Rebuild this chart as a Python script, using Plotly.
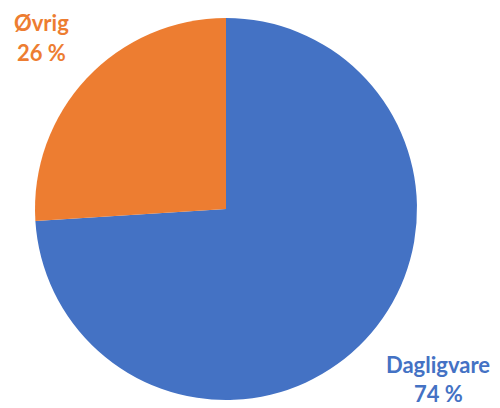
import plotly.graph_objects as go

categories = ["Dagligvare", "Øvrig"]
values = [74, 26]
colors = ["#4472C4", "#ED7D31"]

W, H = 500, 408
cx, cy, r = 226, 209, 191

fig = go.Figure(go.Pie(
    labels=categories,
    values=values,
    sort=False,
    direction="clockwise",
    rotation=0,
    marker=dict(colors=colors, line=dict(width=0)),
    textinfo="none",
    hoverinfo="label+percent",
    domain=dict(x=[(cx - r) / W, (cx + r) / W],
                y=[(H - cy - r) / H, (H - cy + r) / H]),
    showlegend=False,
))

total = sum(values)
label_pos = {"Dagligvare": (438, 364, 393), "Øvrig": (41, 22, 52)}
font_family = "Lato, 'Open Sans', sans-serif"
for cat, val, col in zip(categories, values, colors):
    x, y1, y2 = label_pos[cat]
    pct = f"{round(val / total * 100)} %"
    for txt, yy in ((cat, y1), (pct, y2)):
        fig.add_annotation(
            x=x / W, y=1 - yy / H, xref="paper", yref="paper",
            text=f"<b>{txt}</b>", showarrow=False,
            xanchor="center", yanchor="middle", borderpad=0,
            font=dict(family=font_family, size=22, color=col),
        )

fig.update_layout(
    width=W, height=H,
    margin=dict(l=0, r=0, t=0, b=0),
    paper_bgcolor="white", plot_bgcolor="white",
)

fig.write_html(
    "out.html",
    config={"displayModeBar": False},
    post_script="document.body.style.margin='0';document.body.style.overflow='hidden';",
)
